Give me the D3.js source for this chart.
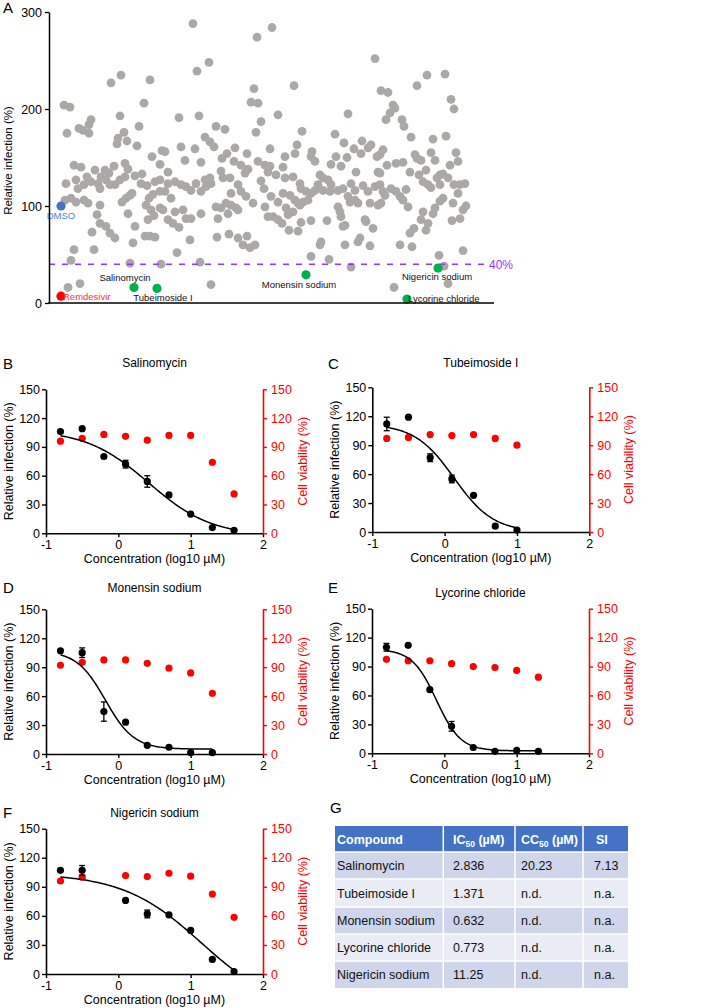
<!DOCTYPE html>
<html><head><meta charset="utf-8">
<script src="https://cdn.jsdelivr.net/npm/d3@7"></script>
<style>body{margin:0;background:#fff}svg{display:block}</style>
</head><body><svg id="c" width="701" height="1008"></svg>
<script>
// ---------- Panel A data: [screen order, relative infection %] ----------
const screenData = [
[62,227],[72,235],[101,230],[15,204],[21,202],[95,206],[71,193],[42,189],[40,184],[30,180],[34,178],[40,175],[18,175],[75,176],[69,170],[78,167],[68,164],[90,182],[88,162],[103,151],[111,143],[113,157],[25,142],[32,140],[76,144],[65,141],[46,137],[56,137],[60,134],[52,130],[79,138],[86,131],[93,133],[38,130],[27,127],[17,123],[35,122],[42,125],[49,123],[57,127],[66,122],[71,127],[76,130],[92,123],[98,121],[106,125],[111,127],[29,118],[51,118],[61,122],[16,106],[22,108],[27,104],[35,106],[39,103],[73,104],[81,111],[83,113],[77,108],[100,108],[104,112],[111,115],[97,101],[102,96],[111,98],[51,101],[79,92],[48,91],[99,86],[105,90],[86,79],[51,82],[57,79],[43,73],[61,72],[66,67],[96,69],[101,69],[106,68],[84,62],[25,55],[45,55],[22,44],[81,41],[112,40],[19,16],[31,20],
[144,288],[208,274],[160,248],[148,239],[205,221],[202,207],[209,206],[130,191],[150,193],[212,187],[167,182],[176,179],[207,176],[156,171],[161,166],[165,161],[132,161],[146,159],[116,156],[136,147],[152,145],[186,160],[198,154],[178,154],[173,149],[185,146],[192,142],[209,146],[216,142],[221,159],[219,135],[199,138],[196,134],[119,135],[172,136],[119,123],[126,125],[132,122],[137,120],[142,116],[147,123],[156,127],[161,129],[162,123],[157,120],[152,115],[174,129],[181,129],[189,122],[192,115],[197,110],[204,103],[212,126],[215,118],[222,110],[182,113],[116,115],[122,108],[114,96],[126,94],[134,96],[119,86],[124,82],[130,78],[137,87],[142,87],[152,92],[167,99],[172,98],[177,103],[182,101],[187,98],[169,87],[179,92],[189,96],[216,99],[219,89],[168,68],[180,71],[189,67],[198,69],[194,60],[206,60],[201,57],[141,65],[128,52],[151,42],[162,19],
[223,284],[326,252],[245,224],[332,219],[229,194],[299,195],[253,177],[286,174],[248,163],[263,156],[262,151],[266,146],[246,154],[236,151],[287,151],[282,143],[292,141],[295,165],[305,159],[313,167],[319,160],[322,163],[328,151],[312,154],[298,150],[307,135],[234,140],[227,132],[221,141],[236,129],[244,130],[251,123],[252,118],[257,115],[262,113],[271,132],[274,129],[279,127],[282,122],[269,122],[266,116],[274,116],[281,115],[289,116],[294,118],[302,123],[306,116],[314,121],[319,115],[326,120],[329,135],[334,115],[229,104],[234,113],[241,111],[246,106],[249,103],[254,104],[259,106],[299,110],[301,104],[306,106],[309,103],[321,103],[329,101],[224,89],[229,86],[233,82],[237,98],[239,91],[244,94],[251,101],[240,75],[249,74],[252,83],[262,85],[278,85],[289,99],[291,94],[292,89],[294,79],[296,80],[316,86],[317,84],[324,77],[272,63],[271,60],[296,60],[309,63],[311,67],[321,59],[262,48],[280,45],[302,37],
[378,235],[396,236],[368,224],[339,217],[402,210],[405,200],[344,204],[346,201],[341,196],[337,189],[353,189],[355,182],[362,171],[384,169],[397,172],[334,158],[331,153],[366,153],[368,149],[372,147],[382,155],[386,147],[407,155],[409,146],[401,142],[338,142],[347,144],[354,145],[331,134],[361,135],[370,132],[377,137],[391,132],[394,133],[399,129],[388,129],[331,122],[342,118],[347,115],[357,117],[374,125],[379,122],[382,119],[391,122],[405,122],[411,122],[416,123],[409,113],[336,111],[351,110],[354,106],[359,99],[332,103],[394,108],[391,105],[404,103],[417,100],[414,96],[386,98],[384,92],[374,94],[372,86],[379,82],[411,87],[403,85],[361,72],[365,77],[377,75],[351,60],[363,58],[414,54],[390,49],[395,38],[399,20],[345,16]
];
const highlightNames = ["DMSO","Remdesivir","Salinomycin","Tubeimoside I","Monensin sodium","Nigericin sodium","Lycorine chloride"];
const highlightOrder = [12,12,85,108,257,389,358];
const highlightValue = [100,7,16,15,29,36,4];
const highlightKind = ["control","positive","hit","hit","hit","hit","hit"];
const cutoffValue = 40;
const screenTicks = [0,100,200,300];

// ---------- Dose-response data ----------
const logConc = [-0.8,-0.5,-0.2,0.1,0.4,0.7,1.0,1.3,1.6];
const compounds = ["Salinomycin","Tubeimoside I","Monensin sodium","Lycorine chloride","Nigericin sodium"];
const panelLetters = ["B","C","D","E","F"];
const infSalinomycin = [106,109,80,72,54,40,20,6,3];
const errSalinomycin = [1,1,1,4,6,1,1,1,1];
const viaSalinomycin = [96,99,103,101,97,102,102,74,41];
const infTubeimoside = [112,119,77,55,38,6,2,null,null];
const errTubeimoside = [7,1,4,4,2,1,1,null,null];
const viaTubeimoside = [97,98,101,100,101,97,90,null,null];
const infMonensin = [107,105,44,33,9,7,1.5,1.5,null];
const errMonensin = [2,5,10,1,1,1,1,1,null];
const viaMonensin = [92,95,97.5,97.5,94,89,84,63,null];
const infLycorine = [110,112,66,28,6,2,3,2,null];
const errLycorine = [4,1,1,5,1,1,1,1,null];
const viaLycorine = [97.5,96,96,93,90,89,86,79,null];
const infNigericin = [107,107,null,76,62,61,45,15,2.5];
const errNigericin = [1,5,null,1,4,1,1,1,1];
const viaNigericin = [96,100,null,101.6,100.6,104,101,82.6,58.5];
// four-parameter logistic fit parameters
const fitTop = [108,112,107,108,104];
const fitBottom = [-3,0,5,2.5,-40];
const fitLogIC50 = [0.42,0.13,-0.18,-0.11,1.15];
const fitHill = [1,1.6,2.2,2.6,0.8];
const fitMaxLog = [1.6,1.0,1.3,1.3,1.6];
const yTicks = [0,30,60,90,120,150];
const xTicks = [-1,0,1,2];

// ---------- Table data ----------
const tableCompounds = ["Salinomycin","Tubeimoside I","Monensin sodium","Lycorine chloride","Nigericin sodium"];
const tableIC50 = ["2.836","1.371","0.632","0.773","11.25"];
const tableCC50 = ["20.23","n.d.","n.d.","n.d.","n.d."];
const tableSI = ["7.13","n.a.","n.a.","n.a.","n.a."];

// ================= drawing =================
const FONT = "Arial, 'Liberation Sans', Helvetica, sans-serif";
const svg = d3.select("#c").style("font-family", FONT);
const RED = "#ff0000";

function letter(t, x, y){
  svg.append("text").attr("x",x).attr("y",y).attr("font-size",15).attr("fill","#000").text(t);
}

// ---- Panel A ----
const ax = d3.scaleLinear().domain([0,445]).range([49,494]);
const ay = d3.scaleLinear().domain([0,300]).range([303,12]);
const gA = svg.append("g");
gA.selectAll("circle.s").data(screenData).join("circle").attr("class","s")
  .attr("cx",d=>ax(d[0])).attr("cy",d=>ay(d[1])).attr("r",4.4).attr("fill","#aca8a8");
gA.append("line").attr("x1",ax(0)).attr("x2",ax(436)).attr("y1",ay(cutoffValue)).attr("y2",ay(cutoffValue))
  .attr("stroke","#9933ff").attr("stroke-width",1.4).attr("stroke-dasharray","6,7");
gA.append("text").attr("x",ax(440)).attr("y",ay(cutoffValue)+4.5).attr("font-size",12).attr("fill","#9933ff").text(cutoffValue+"%");
const hiColor = {control:"#4472c4", positive:"#ff0000", hit:"#00b050"};
const hiText = {control:"#3b86e6", positive:"#ff3030", hit:"#111"};
const labelDx = [0,2,-9,6,-7,-1,1];
const labelDy = [13,4,-6,13,13,12,3];
const labelAnchor = ["middle","start","middle","middle","middle","middle","start"];
highlightNames.forEach((n,i)=>{
  gA.append("circle").attr("cx",ax(highlightOrder[i])).attr("cy",ay(highlightValue[i])).attr("r",4.6).attr("fill",hiColor[highlightKind[i]]);
});
highlightNames.forEach((n,i)=>{
  gA.append("text").attr("x",ax(highlightOrder[i])+labelDx[i]).attr("y",ay(highlightValue[i])+labelDy[i])
    .attr("text-anchor",labelAnchor[i]).attr("font-size",9.5).attr("fill",hiText[highlightKind[i]]).text(n);
});
const aAxis = gA.append("g").attr("transform","translate(49,0)")
  .call(d3.axisLeft(ay).tickValues(screenTicks).tickSize(4).tickSizeOuter(0).tickPadding(3).tickFormat(d=>String(d)));
aAxis.select(".domain").attr("stroke-width",1.5);
aAxis.selectAll(".tick line").attr("stroke-width",1.3);
aAxis.selectAll("text").attr("font-size",12.5).attr("font-family",FONT).attr("fill","#000");
gA.append("line").attr("x1",48.25).attr("x2",494).attr("y1",ay(0)).attr("y2",ay(0)).attr("stroke","#000").attr("stroke-width",1.5);
gA.append("text").attr("transform",`translate(12,${(ay(0)+ay(300))/2+3}) rotate(-90)`).attr("text-anchor","middle")
  .attr("font-size",11.5).text("Relative infection (%)");
letter("A",3,13);

// ---- Panels B-F ----
const panelLeft = [46,372.3,46,372,46];
const panelRight = [263,589.3,263,589,263];
const panelTop = [389.3,387.3,609.3,608.7,828.7];
const panelBottom = [533.3,532,754,753.3,974];
const titleY = [367,367,592,597,817];
const letterPos = [[3,369],[328,369],[3,593],[328,593],[3,818]];
const infs = [infSalinomycin,infTubeimoside,infMonensin,infLycorine,infNigericin];
const errs = [errSalinomycin,errTubeimoside,errMonensin,errLycorine,errNigericin];
const vias = [viaSalinomycin,viaTubeimoside,viaMonensin,viaLycorine,viaNigericin];

compounds.forEach((name,i)=>{
  const g = svg.append("g");
  const x = d3.scaleLinear().domain([-1,2]).range([panelLeft[i],panelRight[i]]);
  const y = d3.scaleLinear().domain([0,150]).range([panelBottom[i],panelTop[i]]);
  const styleAxis = (sel,color)=>{
    sel.select(".domain").attr("stroke",color).attr("stroke-width",1.6);
    sel.selectAll(".tick line").attr("stroke",color).attr("stroke-width",1.4);
    sel.selectAll("text").attr("font-size",12.5).attr("font-family",FONT).attr("fill",color);
  };
  // axes
  const gx = g.append("g").attr("transform",`translate(0,${y(0)})`)
    .call(d3.axisBottom(x).tickValues(xTicks).tickSize(4).tickSizeOuter(0).tickPadding(3).tickFormat(d=>String(d)));
  styleAxis(gx,"#000");
  const gl = g.append("g").attr("transform",`translate(${x(-1)},0)`)
    .call(d3.axisLeft(y).tickValues(yTicks).tickSize(4).tickSizeOuter(0).tickPadding(2).tickFormat(d=>String(d)));
  styleAxis(gl,"#000");
  const gr = g.append("g").attr("transform",`translate(${x(2)},0)`)
    .call(d3.axisRight(y).tickValues(yTicks).tickSize(4).tickSizeOuter(0).tickPadding(4).tickFormat(d=>String(d)));
  styleAxis(gr,RED);
  // titles
  g.append("text").attr("x",(x(-1)+x(2))/2).attr("y",titleY[i]).attr("text-anchor","middle").attr("font-size",12).text(name);
  g.append("text").attr("transform",`translate(${x(-1)-33},${(y(0)+y(150))/2}) rotate(-90)`).attr("text-anchor","middle")
    .attr("font-size",12.5).text("Relative infection (%)");
  g.append("text").attr("transform",`translate(${x(2)+43.5},${(y(0)+y(150))/2}) rotate(-90)`).attr("text-anchor","middle")
    .attr("font-size",12.5).attr("fill",RED).text("Cell viability (%)");
  g.append("text").attr("x",(x(-1)+x(2))/2).attr("y",y(0)+30).attr("text-anchor","middle").attr("font-size",12.5)
    .text("Concentration (log10 \u00b5M)");
  letter(panelLetters[i],letterPos[i][0],letterPos[i][1]);
  // viability
  const via = logConc.map((c,k)=>({c,v:vias[i][k]})).filter(d=>d.v!=null);
  g.selectAll("circle.via").data(via).join("circle").attr("class","via")
    .attr("cx",d=>x(d.c)).attr("cy",d=>y(d.v)).attr("r",3.6).attr("fill",RED);
  // fit curve
  const pts = d3.range(-0.8, fitMaxLog[i]+0.0001, 0.02);
  const f = c=> fitBottom[i] + (fitTop[i]-fitBottom[i])/(1+Math.pow(10, fitHill[i]*(c-fitLogIC50[i])));
  g.append("path").datum(pts).attr("fill","none").attr("stroke","#000").attr("stroke-width",1.5)
    .attr("d",d3.line().x(c=>x(c)).y(c=>y(f(c))));
  // infection points + error bars
  const inf = logConc.map((c,k)=>({c,v:infs[i][k],e:errs[i][k]})).filter(d=>d.v!=null);
  const eb = g.selectAll("g.eb").data(inf.filter(d=>d.e>2)).join("g").attr("class","eb").attr("stroke","#000").attr("stroke-width",1.3);
  eb.append("line").attr("x1",d=>x(d.c)).attr("x2",d=>x(d.c)).attr("y1",d=>y(d.v-d.e)).attr("y2",d=>y(d.v+d.e));
  eb.append("line").attr("x1",d=>x(d.c)-3).attr("x2",d=>x(d.c)+3).attr("y1",d=>y(d.v-d.e)).attr("y2",d=>y(d.v-d.e));
  eb.append("line").attr("x1",d=>x(d.c)-3).attr("x2",d=>x(d.c)+3).attr("y1",d=>y(d.v+d.e)).attr("y2",d=>y(d.v+d.e));
  g.selectAll("circle.inf").data(inf).join("circle").attr("class","inf")
    .attr("cx",d=>x(d.c)).attr("cy",d=>y(d.v)).attr("r",3.6).attr("fill","#000");
});

// ---- Panel G table ----
letter("G",330,813);
const colEdges = [335,443.3,515,583,628];
const rowEdges = [826,852,879,907,934,961,988];
const colTextX = [337,453,521,594];
const gT = svg.append("g");
const rows = tableCompounds.map((c,k)=>[c,tableIC50[k],tableCC50[k],tableSI[k]]);
for(let r=0;r<6;r++){
  for(let c=0;c<4;c++){
    const fill = r===0 ? "#4472c4" : (r%2===1 ? "#cfd5ea" : "#e9ebf5");
    gT.append("rect").attr("x",colEdges[c]+(c>0?0.75:0)).attr("y",rowEdges[r]+(r>0?0.75:0))
      .attr("width",colEdges[c+1]-colEdges[c]-(c>0?0.75:0)-(c<3?0.75:0))
      .attr("height",rowEdges[r+1]-rowEdges[r]-(r>0?0.75:0)-(r<5?0.75:0)).attr("fill",fill);
  }
}
// header
const hy = (rowEdges[0]+rowEdges[1])/2+4.5;
gT.append("text").attr("x",colTextX[0]).attr("y",hy).attr("font-size",12.5).attr("font-weight","bold").attr("fill","#fff").text("Compound");
[["IC","50"," (\u00b5M)"],["CC","50"," (\u00b5M)"]].forEach((h,k)=>{
  const t = gT.append("text").attr("x",colTextX[k+1]).attr("y",hy).attr("font-size",12.5).attr("font-weight","bold").attr("fill","#fff");
  t.append("tspan").text(h[0]);
  t.append("tspan").attr("font-size",8.5).attr("dy",3).text(h[1]);
  t.append("tspan").attr("dy",-3).text(h[2]);
});
gT.append("text").attr("x",colTextX[3]+2).attr("y",hy).attr("font-size",12.5).attr("font-weight","bold").attr("fill","#fff").text("SI");
rows.forEach((row,r)=>{
  const yy = (rowEdges[r+1]+rowEdges[r+2])/2+4.5;
  row.forEach((v,c)=>{
    gT.append("text").attr("x",colTextX[c]).attr("y",yy).attr("font-size",12.5).attr("fill","#111").text(v);
  });
});
</script></body></html>
